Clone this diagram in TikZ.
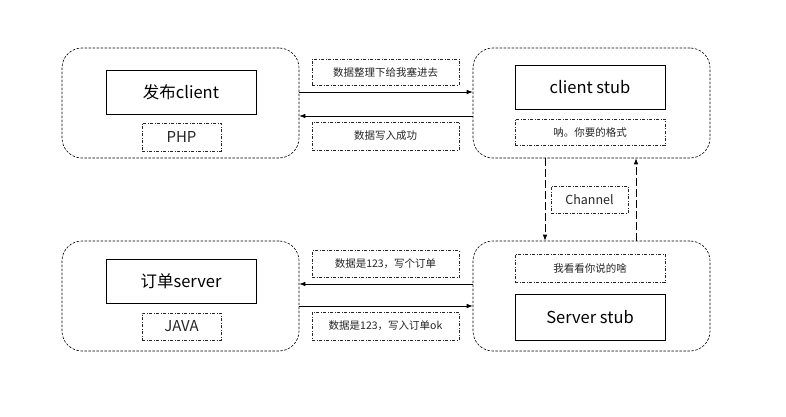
\documentclass[tikz,border=0pt]{standalone}
\usepackage{fontspec}
\setmainfont{Noto Sans CJK SC}
\usetikzlibrary{arrows.meta}
\begin{document}
\begin{tikzpicture}[x=1pt,y=-1pt,
  container/.style={draw=black,dash pattern=on 2.5pt off 1.5pt,line width=0.6pt,rounded corners=20pt,minimum width=237pt,minimum height=110pt,inner sep=0pt},
  solidbox/.style={draw=black,line width=0.8pt,minimum width=150pt,minimum height=44pt,inner sep=0pt,font=\fontsize{16.5}{19}\selectfont},
  tagbox/.style={draw=black!85,dash pattern=on 3pt off 1.5pt on 1pt off 1.5pt,line width=0.5pt,inner sep=0pt,text=black!85},
  arr/.style={-{Latex[length=6pt,width=4.5pt]},line width=0.7pt},
  chan/.style={-{Latex[length=6pt,width=4.5pt]},line width=0.7pt,dash pattern=on 8pt off 3pt}
]
\useasboundingbox (0,0) rectangle (786,417);
\fill[white] (0,0) rectangle (786,417);
% containers
\node[container] (tl) at (180.5,103) {};
\node[container] (tr) at (591.5,103) {};
\node[container] (bl) at (180.5,296) {};
\node[container] (br) at (591.5,296) {};
% inner boxes
\node[solidbox] (pub) at (181,92) {发布client};
\node[tagbox,minimum width=79pt,minimum height=28pt,font=\fontsize{15}{18}\selectfont] (php) at (181.5,137) {PHP};
\node[solidbox] (cstub) at (590,87) {client stub};
\node[tagbox,minimum width=150pt,minimum height=26pt,font=\fontsize{10.5}{12}\selectfont] (fmt) at (590,132) {呐。你要的格式};
\node[tagbox,minimum width=77pt,minimum height=27pt,font=\fontsize{12.5}{15}\selectfont] (chn) at (589.5,199.5) {Channel};
\node[tagbox,minimum width=150pt,minimum height=28pt,font=\fontsize{10.5}{12}\selectfont] (see) at (590,268) {我看看你说的啥};
\node[solidbox,minimum height=46pt] (sstub) at (590,317) {Server stub};
\node[solidbox] (order) at (181,281) {订单server};
\node[tagbox,minimum width=79pt,minimum height=27pt,font=\fontsize{15}{18}\selectfont] (java) at (181.5,326.5) {JAVA};
% message labels
\node[tagbox,minimum width=147pt,minimum height=26pt,font=\fontsize{10.5}{12}\selectfont] (m1) at (385.5,72) {数据整理下给我塞进去};
\node[tagbox,minimum width=147pt,minimum height=28pt,font=\fontsize{10.5}{12}\selectfont] (m2) at (385.5,136) {数据写入成功};
\node[tagbox,minimum width=147pt,minimum height=27pt,font=\fontsize{10.5}{12}\selectfont] (m3) at (385.5,264) {数据是123，写个订单};
\node[tagbox,minimum width=147pt,minimum height=28pt,font=\fontsize{10.5}{12}\selectfont] (m4) at (385.5,326) {数据是123，写入订单ok};
% connectors
\draw[arr] ([yshift=11pt]tl.east) -- ([yshift=11pt]tr.west);
\draw[arr] ([yshift=-13pt]tr.west) -- ([yshift=-13pt]tl.east);
\draw[arr] ([yshift=12pt]br.west) -- ([yshift=12pt]bl.east);
\draw[arr] ([yshift=-10pt]bl.east) -- ([yshift=-10pt]br.west);
\draw[chan] ([xshift=-46.5pt]tr.south) -- ([xshift=-46.5pt]br.north);
\draw[chan] ([xshift=44.5pt]br.north) -- ([xshift=44.5pt]tr.south);
\end{tikzpicture}
\end{document}
